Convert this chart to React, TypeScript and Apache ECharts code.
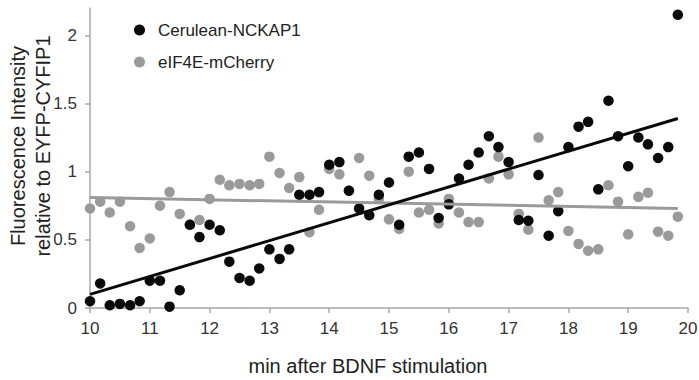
import React, { useEffect, useRef } from "react";
import * as echarts from "echarts";

const timeMin = [
  10, 10.17, 10.33, 10.5, 10.67, 10.83, 11, 11.17, 11.33, 11.5,
  11.67, 11.83, 12, 12.17, 12.33, 12.5, 12.67, 12.83, 13, 13.17,
  13.33, 13.5, 13.67, 13.83, 14, 14.17, 14.33, 14.5, 14.67, 14.83,
  15, 15.17, 15.33, 15.5, 15.67, 15.83, 16, 16.17, 16.33, 16.5,
  16.67, 16.83, 17, 17.17, 17.33, 17.5, 17.67, 17.83, 18, 18.17,
  18.33, 18.5, 18.67, 18.83, 19, 19.17, 19.33, 19.5, 19.67, 19.83,
];

const ceruleanNCKAP1 = [
  0.05, 0.18, 0.02, 0.03, 0.02, 0.05, 0.2, 0.2, 0.01, 0.13,
  0.61, 0.52, 0.61, 0.57, 0.34, 0.22, 0.2, 0.29, 0.43, 0.36,
  0.43, 0.83, 0.83, 0.85, 1.05, 1.07, 0.86, 0.73, 0.68, 0.83,
  0.92, 0.61, 1.11, 1.14, 1.02, 0.66, 0.76, 0.95, 1.05, 1.14,
  1.26, 1.18, 1.07, 0.645, 0.64, 0.975, 0.53, 0.71, 1.18, 1.33,
  1.365, 0.87, 1.52, 1.26, 1.04, 1.25, 1.2, 1.1, 1.18, 2.15,
];

const eIF4EmCherry = [
  0.73, 0.78, 0.7, 0.78, 0.6, 0.44, 0.51, 0.75, 0.85, 0.69,
  0.61, 0.645, 0.8, 0.94, 0.9, 0.91, 0.9, 0.91, 1.11, 0.99,
  0.88, 0.96, 0.555, 0.72, 1.02, 0.98, 0.86, 1.1, 0.97, 0.8,
  0.65, 0.58, 1.0, 0.7, 0.72, 0.62, 0.8, 0.7, 0.63, 0.63,
  0.95, 1.11, 0.98, 0.69, 0.575, 1.25, 0.79, 0.85, 0.565, 0.47,
  0.42, 0.43, 0.9, 0.78, 0.54, 0.815, 0.845, 0.56, 0.53, 0.67,
];

const ceruleanTrend = [
  [10, 0.1],
  [19.83, 1.39],
];
const mCherryTrend = [
  [10, 0.81],
  [19.83, 0.73],
];

const yTicks = [0, 0.5, 1, 1.5, 2];
const seriesNames = ["Cerulean-NCKAP1", "eIF4E-mCherry"];

const FONT = "'Liberation Sans', Arial, sans-serif";
const BLACK = "#0a0a0a";
const GRAY = "#9a9a9a";
const AXIS = "#a8a8a8";

export default function App() {
  const ref = useRef<HTMLDivElement>(null);

  useEffect(() => {
    document.body.style.margin = "0";
    if (!ref.current) return;
    const chart = echarts.init(ref.current, undefined, { renderer: "svg" });
    const pairs = (ys: number[]) => timeMin.map((t, i) => [t, ys[i]]);
    chart.setOption({
      animation: false,
      backgroundColor: "#ffffff",
      textStyle: { fontFamily: FONT },
      grid: {
        left: 90,
        right: 11,
        top: 8,
        bottom: 72,
        containLabel: false,
        outerBoundsMode: "none",
      },
      legend: {
        data: seriesNames,
        orient: "vertical",
        left: 129,
        top: 15,
        itemWidth: 11,
        itemHeight: 11,
        itemGap: 12,
        icon: "circle",
        textStyle: {
          fontFamily: FONT,
          fontSize: 17,
          color: "#222",
          lineHeight: 20,
          padding: [0, 0, 0, 8],
        },
      },
      xAxis: {
        type: "value",
        min: 10,
        max: 20,
        interval: 1,
        splitLine: { show: false },
        axisLine: { show: true, onZero: false, lineStyle: { color: AXIS, width: 1.5 } },
        axisTick: { show: true, length: 5, lineStyle: { color: AXIS, width: 1.5 } },
        axisLabel: { fontSize: 17, color: "#333", margin: 12, fontFamily: FONT },
      },
      yAxis: {
        type: "value",
        min: 0,
        max: 2.2,
        interval: 0.5,
        splitLine: { show: false },
        axisLine: { show: true, onZero: false, lineStyle: { color: AXIS, width: 1.5 } },
        axisTick: {
          show: true,
          length: 5,
          customValues: yTicks,
          lineStyle: { color: AXIS, width: 1.5 },
        },
        axisLabel: {
          fontSize: 17,
          color: "#333",
          margin: 13,
          fontFamily: FONT,
          customValues: yTicks,
        },
      },
      graphic: [
        {
          type: "text",
          x: 30,
          y: 146,
          rotation: Math.PI / 2,
          style: {
            text: "Fluorescence Intensity\nrelative to EYFP-CYFIP1",
            fontSize: 20,
            fontFamily: FONT,
            fill: "#222",
            align: "center",
            verticalAlign: "middle",
            lineHeight: 25,
          },
        },
        {
          type: "text",
          x: 368,
          y: 366,
          style: {
            text: "min after BDNF stimulation",
            fontSize: 20,
            fontFamily: FONT,
            fill: "#222",
            align: "center",
            verticalAlign: "middle",
          },
        },
      ],
      series: [
        {
          name: seriesNames[1],
          type: "scatter",
          data: pairs(eIF4EmCherry),
          symbol: "circle",
          symbolSize: 10.5,
          itemStyle: { color: GRAY, opacity: 1 },
          z: 2,
        },
        {
          name: seriesNames[0],
          type: "scatter",
          data: pairs(ceruleanNCKAP1),
          symbol: "circle",
          symbolSize: 10.5,
          itemStyle: { color: BLACK, opacity: 1 },
          z: 3,
        },
        {
          name: "mCherry trend",
          type: "line",
          data: mCherryTrend,
          symbol: "none",
          lineStyle: { color: GRAY, width: 3 },
          z: 4,
          silent: true,
        },
        {
          name: "Cerulean trend",
          type: "line",
          data: ceruleanTrend,
          symbol: "none",
          lineStyle: { color: BLACK, width: 3 },
          z: 5,
          silent: true,
        },
      ],
    });
    return () => chart.dispose();
  }, []);

  return <div ref={ref} style={{ width: 699, height: 380 }} />;
}
